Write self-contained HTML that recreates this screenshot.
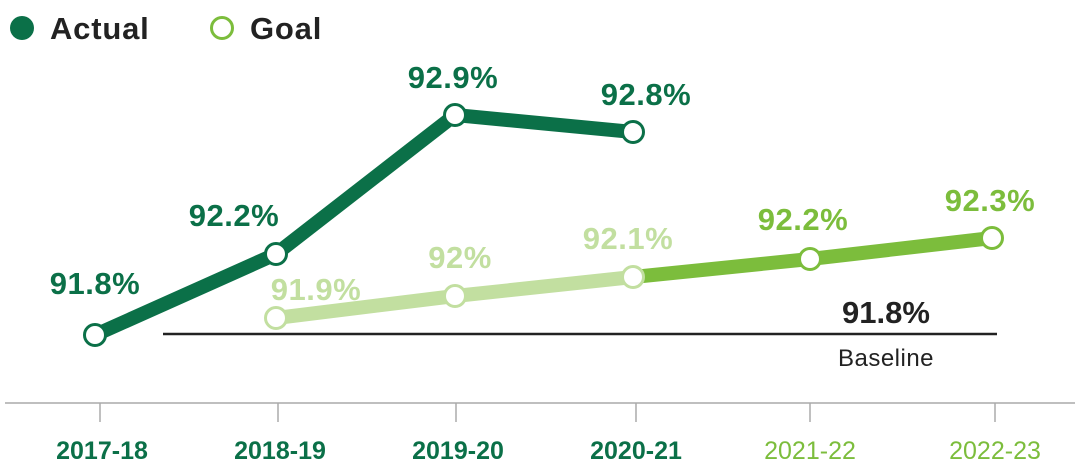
<!DOCTYPE html>
<html><head><style>
html,body{margin:0;padding:0;background:#fff;}
svg text{font-family:"Liberation Sans",sans-serif;}
</style></head><body>
<svg width="1080" height="463" viewBox="0 0 1080 463" xmlns="http://www.w3.org/2000/svg">
<circle cx="22" cy="28" r="12" fill="#0b7048"/>
<text x="50" y="39" font-size="31" font-weight="bold" fill="#222" letter-spacing="0.8">Actual</text>
<circle cx="222" cy="28" r="10.5" fill="#fff" stroke="#7cbd3c" stroke-width="3"/>
<text x="250" y="39" font-size="31" font-weight="bold" fill="#222" letter-spacing="0.8">Goal</text>

<line x1="5" y1="403" x2="1075" y2="403" stroke="#aaa" stroke-width="1.5"/>
<g stroke="#aaa" stroke-width="1.5">
<line x1="100" y1="403" x2="100" y2="422"/><line x1="278" y1="403" x2="278" y2="422"/>
<line x1="456" y1="403" x2="456" y2="422"/><line x1="636" y1="403" x2="636" y2="422"/>
<line x1="810" y1="403" x2="810" y2="422"/><line x1="995" y1="403" x2="995" y2="422"/>
</g>
<g font-size="25" text-anchor="middle">
<text x="102" y="459" font-weight="bold" fill="#0b7048">2017-18</text>
<text x="280" y="459" font-weight="bold" fill="#0b7048">2018-19</text>
<text x="458" y="459" font-weight="bold" fill="#0b7048">2019-20</text>
<text x="636" y="459" font-weight="bold" fill="#0b7048">2020-21</text>
<text x="810" y="459" fill="#7cbd3c">2021-22</text>
<text x="995" y="459" fill="#7cbd3c">2022-23</text>
</g>

<line x1="163" y1="334" x2="997" y2="334" stroke="#222" stroke-width="2.5"/>
<text x="886" y="323" font-size="31" font-weight="bold" fill="#222" text-anchor="middle">91.8%</text>
<text x="886" y="366" font-size="24" fill="#222" text-anchor="middle" letter-spacing="0.5">Baseline</text>

<polyline points="276,318 455,296 633,277" fill="none" stroke="#c2dfa0" stroke-width="14" stroke-linejoin="round"/>
<polyline points="633,277 810,259 992,238" fill="none" stroke="#7cbd3c" stroke-width="14" stroke-linejoin="round"/>
<polyline points="95,335 276,254 455,115 633,132" fill="none" stroke="#0b7048" stroke-width="14" stroke-linejoin="round"/>

<g fill="#fff" stroke-width="3">
<circle cx="276" cy="318" r="10.5" stroke="#c2dfa0"/>
<circle cx="455" cy="296" r="10.5" stroke="#c2dfa0"/>
<circle cx="633" cy="277" r="10.5" stroke="#c2dfa0"/>
<circle cx="810" cy="259" r="10.5" stroke="#7cbd3c"/>
<circle cx="992" cy="238" r="10.5" stroke="#7cbd3c"/>
<circle cx="95" cy="335" r="10.5" stroke="#0b7048"/>
<circle cx="276" cy="254" r="10.5" stroke="#0b7048"/>
<circle cx="455" cy="115" r="10.5" stroke="#0b7048"/>
<circle cx="633" cy="132" r="10.5" stroke="#0b7048"/>
</g>

<g font-size="31" font-weight="bold" text-anchor="middle" letter-spacing="0.5">
<text x="95" y="294" fill="#0b7048">91.8%</text>
<text x="234" y="226" fill="#0b7048">92.2%</text>
<text x="453" y="88" fill="#0b7048">92.9%</text>
<text x="646" y="105" fill="#0b7048">92.8%</text>
<text x="316" y="300" fill="#c2dfa0">91.9%</text>
<text x="460" y="268" fill="#c2dfa0">92%</text>
<text x="628" y="249" fill="#c2dfa0">92.1%</text>
<text x="803" y="230" fill="#7cbd3c">92.2%</text>
<text x="990" y="211" fill="#7cbd3c">92.3%</text>
</g>
</svg>
</body></html>
